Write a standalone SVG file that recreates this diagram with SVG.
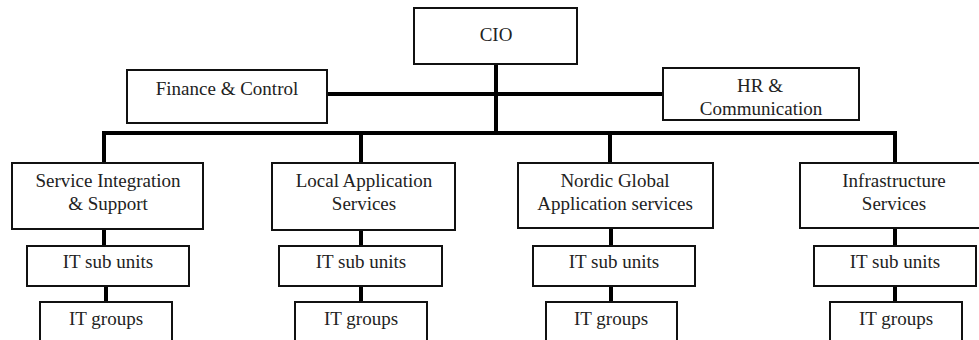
<svg xmlns="http://www.w3.org/2000/svg" width="979" height="340" viewBox="0 0 979 340">
  <style>
    .box { fill: #ffffff; stroke: #111111; stroke-width: 2; }
    .lbl { font-family: "Liberation Serif", "Times New Roman", serif; font-size: 19px; fill: #222222; text-anchor: middle; }
    .wire { stroke: #000000; stroke-width: 4; fill: none; }
  </style>
  <rect width="979" height="340" fill="#ffffff"/>

  <!-- connectors -->
  <g id="connectors" class="wire">
    <line x1="496" y1="64" x2="496" y2="135"/>
    <line x1="327" y1="94" x2="663" y2="94"/>
    <path d="M104 163 V133 H895 V163"/>
    <line x1="361" y1="133" x2="361" y2="163"/>
    <line x1="610" y1="133" x2="610" y2="163"/>
    <line x1="104" y1="229" x2="104" y2="246"/>
    <line x1="106" y1="286" x2="106" y2="302"/>
    <line x1="361" y1="230" x2="361" y2="246"/>
    <line x1="361" y1="286" x2="361" y2="302"/>
    <line x1="611" y1="228" x2="611" y2="246"/>
    <line x1="611" y1="286" x2="611" y2="302"/>
    <line x1="895" y1="228" x2="895" y2="246"/>
    <line x1="895" y1="286" x2="895" y2="302"/>
  </g>

  <g id="cio">
    <rect class="box" x="414" y="8" width="163" height="56"/>
    <text class="lbl" x="496" y="41">CIO</text>
  </g>
  <g id="finance-control">
    <rect class="box" x="127" y="70" width="200" height="53"/>
    <text class="lbl" x="227" y="95">Finance &amp; Control</text>
  </g>
  <g id="hr-communication">
    <rect class="box" x="663" y="68" width="196" height="52"/>
    <text class="lbl" x="760" y="92">HR &amp;</text>
    <text class="lbl" x="761" y="115">Communication</text>
  </g>

  <g id="service-integration">
    <rect class="box" x="12" y="163" width="191" height="66"/>
    <text class="lbl" x="108" y="187">Service Integration</text>
    <text class="lbl" x="108" y="210">&amp; Support</text>
  </g>
  <g id="sis-sub-units">
    <rect class="box" x="27" y="246" width="162" height="40"/>
    <text class="lbl" x="108" y="268">IT sub units</text>
  </g>
  <g id="sis-groups">
    <rect class="box" x="40" y="302" width="132" height="50"/>
    <text class="lbl" x="106" y="325">IT groups</text>
  </g>

  <g id="local-application">
    <rect class="box" x="272" y="163" width="183" height="67"/>
    <text class="lbl" x="364" y="187">Local Application</text>
    <text class="lbl" x="364" y="210">Services</text>
  </g>
  <g id="las-sub-units">
    <rect class="box" x="279" y="246" width="163" height="40"/>
    <text class="lbl" x="361" y="268">IT sub units</text>
  </g>
  <g id="las-groups">
    <rect class="box" x="295" y="302" width="132" height="50"/>
    <text class="lbl" x="361" y="325">IT groups</text>
  </g>

  <g id="nordic-global">
    <rect class="box" x="518" y="163" width="195" height="65"/>
    <text class="lbl" x="615" y="187">Nordic Global</text>
    <text class="lbl" x="615" y="210">Application services</text>
  </g>
  <g id="ngas-sub-units">
    <rect class="box" x="533" y="246" width="162" height="40"/>
    <text class="lbl" x="614" y="268">IT sub units</text>
  </g>
  <g id="ngas-groups">
    <rect class="box" x="546" y="302" width="131" height="50"/>
    <text class="lbl" x="611" y="325">IT groups</text>
  </g>

  <g id="infrastructure">
    <rect class="box" x="800" y="163" width="190" height="65"/>
    <text class="lbl" x="894" y="187">Infrastructure</text>
    <text class="lbl" x="894" y="210">Services</text>
  </g>
  <g id="infra-sub-units">
    <rect class="box" x="814" y="246" width="162" height="40"/>
    <text class="lbl" x="895" y="268">IT sub units</text>
  </g>
  <g id="infra-groups">
    <rect class="box" x="830" y="302" width="132" height="50"/>
    <text class="lbl" x="896" y="325">IT groups</text>
  </g>
</svg>
